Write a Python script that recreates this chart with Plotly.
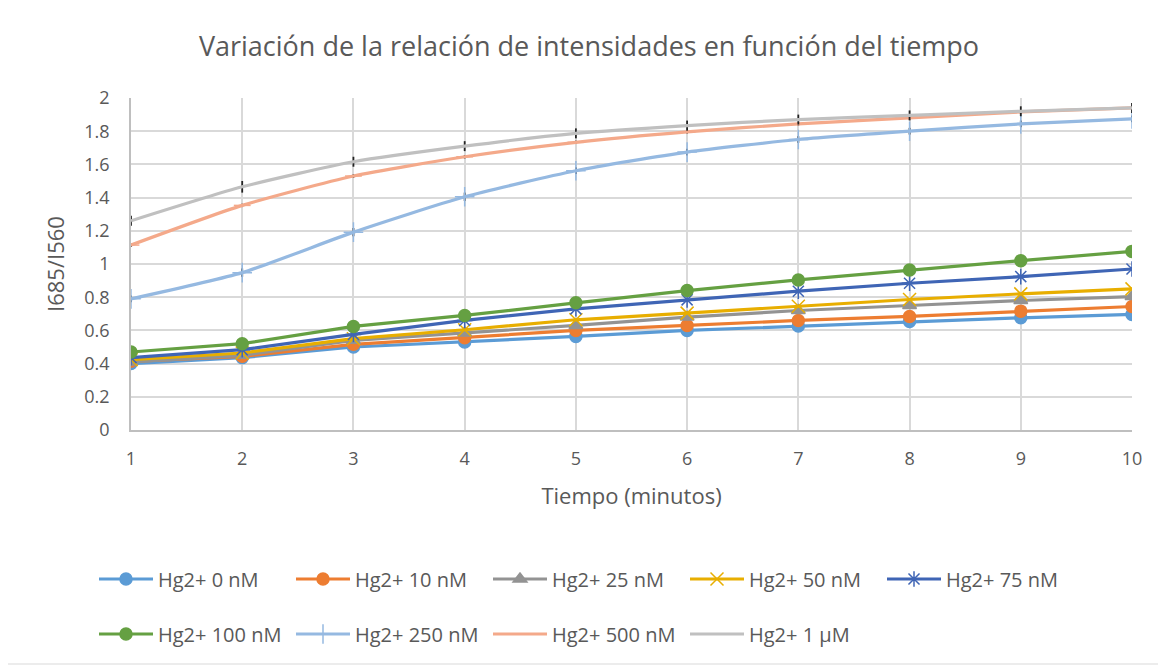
import plotly.graph_objects as go

tiempo = [1, 2, 3, 4, 5, 6, 7, 8, 9, 10]

hg_0 = [0.40, 0.436, 0.50, 0.53, 0.564, 0.60, 0.626, 0.654, 0.676, 0.696]
hg_10 = [0.414, 0.444, 0.516, 0.556, 0.60, 0.63, 0.66, 0.684, 0.716, 0.744]
hg_25 = [0.41, 0.45, 0.54, 0.584, 0.63, 0.68, 0.72, 0.75, 0.78, 0.804]
hg_50 = [0.424, 0.464, 0.55, 0.604, 0.664, 0.704, 0.746, 0.786, 0.82, 0.85]
hg_75 = [0.436, 0.484, 0.576, 0.66, 0.73, 0.784, 0.836, 0.884, 0.924, 0.97]
hg_100 = [0.47, 0.52, 0.624, 0.69, 0.766, 0.84, 0.904, 0.964, 1.02, 1.076]
hg_250 = [0.79, 0.948, 1.192, 1.405, 1.562, 1.674, 1.75, 1.80, 1.844, 1.874]
hg_500 = [1.114, 1.353, 1.53, 1.646, 1.733, 1.796, 1.844, 1.88, 1.916, 1.94]
hg_1000 = [1.26, 1.465, 1.616, 1.71, 1.787, 1.834, 1.87, 1.895, 1.92, 1.94]

err_250 = [0.02, 0.025, 0.025, 0.025, 0.02, 0.02, 0.02, 0.02, 0.02, 0.02]
err_500 = [0.01, 0.01, 0.01, 0.01, 0.01, 0.01, 0.01, 0.01, 0.01, 0.01]
err_1000 = [0.03, 0.035, 0.03, 0.03, 0.03, 0.03, 0.03, 0.03, 0.03, 0.03]

names = ["Hg2+ 0 nM", "Hg2+ 10 nM", "Hg2+ 25 nM", "Hg2+ 50 nM", "Hg2+ 75 nM",
         "Hg2+ 100 nM", "Hg2+ 250 nM", "Hg2+ 500 nM", "Hg2+ 1 µM"]
series = [hg_0, hg_10, hg_25, hg_50, hg_75, hg_100, hg_250, hg_500, hg_1000]
errors = [None, None, None, None, None, None, err_250, err_500, err_1000]
colors = ["#5B9BD5", "#ED7D31", "#939393", "#E8AE00", "#3F65B5",
          "#65A042", "#95B9E1", "#F4A98A", "#C0C0C0"]
symbols = ["circle", "circle", "triangle-up", "x-thin-open", "asterisk-open",
           "circle", "cross-thin-open", "line-ew-open", None]
sizes = [12, 12, 12, 13, 13, 12, 14, 12, 0]

FONT = "Open Sans"
TXT = "#595959"
OFF = 8  # page body margin

W, H = 1166, 665
PL, PR, PT, PB = 131, 1132, 98, 430  # plot area on screen

fig = go.Figure()
for i, (nm, ys, er, col, sym, sz) in enumerate(zip(names, series, errors, colors, symbols, sizes)):
    kw = {}
    if er is not None:
        kw["error_y"] = dict(type="data", array=er, visible=True, color="#222222",
                             thickness=1.8, width=0)
    marker = dict(color=col, size=sz, line=dict(color=col, width=1.5))
    if sym is not None:
        marker["symbol"] = sym
        mode = "lines+markers"
    else:
        mode = "lines"
    fig.add_trace(go.Scatter(
        x=tiempo, y=ys, name=nm, mode=mode,
        line=dict(color=col, width=3.2, shape="spline" if i >= 6 else "linear", smoothing=0.6),
        marker=marker,
        legend="legend" if i < 5 else "legend2",
        **kw,
    ))

leg_common = dict(orientation="h", xref="container", yref="container",
                  xanchor="left", yanchor="middle",
                  entrywidth=128, entrywidthmode="pixels",
                  font=dict(family=FONT, size=20, color=TXT),
                  bgcolor="rgba(0,0,0,0)", itemwidth=54)

fig.update_layout(
    width=W, height=H,
    paper_bgcolor="white", plot_bgcolor="white",
    margin=dict(l=PL - OFF, r=W - (PR - OFF), t=PT - OFF, b=H - (PB - OFF), autoexpand=False),
    font=dict(family=FONT, color=TXT, size=18),
    title=dict(text="Variación de la relación de intensidades en función del tiempo",
               x=(589 - OFF) / W, xanchor="center", xref="container",
               y=1 - (47 - OFF) / H, yanchor="middle", yref="container",
               font=dict(family=FONT, size=27, color=TXT)),
    legend=dict(x=(94 - OFF) / W, y=1 - (579 - OFF) / H, **leg_common),
    legend2=dict(x=(94 - OFF) / W, y=1 - (634 - OFF) / H, **leg_common),
    xaxis=dict(title=dict(text="Tiempo (minutos)", font=dict(size=22, color=TXT), standoff=19),
               range=[1, 10], tickmode="linear", tick0=1, dtick=1,
               showgrid=True, gridcolor="#D9D9D9", gridwidth=1.5,
               showline=True, linecolor="#BFBFBF", linewidth=1.5,
               zeroline=False, ticks="", ticklabelstandoff=12,
               tickfont=dict(size=18, color=TXT)),
    yaxis=dict(title=dict(text="I685/I560", font=dict(size=22, color=TXT), standoff=14),
               range=[0, 2], tickmode="linear", tick0=0, dtick=0.2,
               showgrid=True, gridcolor="#D9D9D9", gridwidth=1.5,
               showline=True, linecolor="#BFBFBF", linewidth=1.5,
               zeroline=False, ticks="", ticklabelstandoff=16,
               tickfont=dict(size=18, color=TXT)),
)

pw, ph = PR - PL, PB - PT
fig.add_shape(type="rect", xref="paper", yref="paper",
              x0=-(PL - 1) / pw, x1=1 + (W - 1 - PR) / pw,
              y0=-(H - 1 - PB) / ph, y1=1 + (PT - 1) / ph,
              line=dict(color="#D9D9D9", width=1), fillcolor="rgba(0,0,0,0)", layer="below")

fig.write_html("out.html")
